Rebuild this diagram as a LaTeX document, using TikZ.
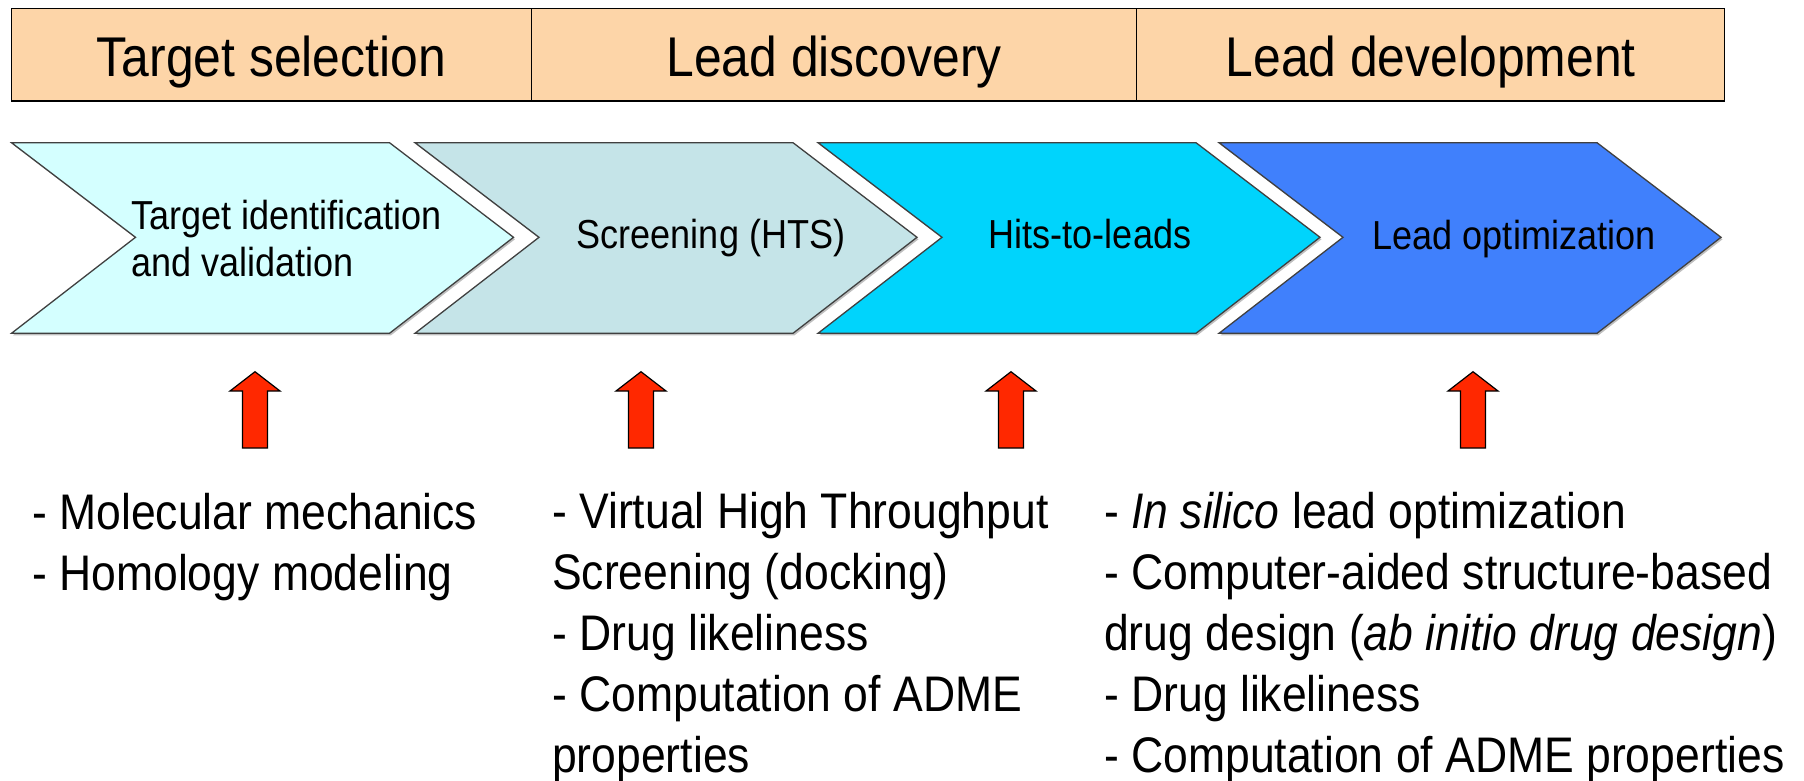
\documentclass[tikz,border=0pt]{standalone}
\usepackage{fontspec}
\setmainfont{Liberation Sans}[FakeStretch=0.89]
\definecolor{hdrfill}{RGB}{253,213,168}
\definecolor{chevA}{RGB}{212,255,255}
\definecolor{chevB}{RGB}{197,228,232}
\definecolor{chevC}{RGB}{0,212,252}
\definecolor{chevD}{RGB}{64,128,252}
\definecolor{arrowred}{RGB}{255,40,0}
\begin{document}
\begin{tikzpicture}[x=1pt,y=-1pt,
  hdrbox/.style={draw=black, fill=hdrfill, line width=1.5pt, inner sep=0pt,
    minimum height=92.7pt, text height=44pt, text depth=0pt,
    font=\fontsize{56}{60}\selectfont},
  chev/.style={draw=black!75, line width=1.3pt, line join=miter},
  chevshadow/.style={fill=black!25},
  chevtext/.style={font=\fontsize{40.5}{50}\selectfont, inner sep=0pt, anchor=base},
  chevtextl/.style={chevtext, anchor=base west},
  bodytext/.style={font=\fontsize{50}{61}\selectfont, inner sep=0pt, anchor=base west},
  uparrow/.style={draw=black, fill=arrowred, line width=1.2pt, line join=miter}]
\useasboundingbox (0,0) rectangle (1804,781);

% header bar
\node[hdrbox, minimum width=520pt] (h1) at (271.5,54.65) {Target selection};
\node[hdrbox, minimum width=605.2pt] (h2) at (834.1,54.65) {Lead discovery};
\node[hdrbox, minimum width=587.9pt] (h3) at (1430.65,54.65) {Lead development};

% chevrons
\foreach \L/\col in {11.5/chevA, 415/chevB, 818/chevC, 1219/chevD}{
  \fill[chevshadow] (\L+1.5,144.7) -- (\L+379.5,144.7) -- (\L+503.5,239.3) -- (\L+379.5,335.3) -- (\L+1.5,335.3) -- (\L+125.5,239.3) -- cycle;
  \draw[chev, fill=\col] (\L,142.7) -- (\L+378,142.7) -- (\L+502,237.3) -- (\L+378,333.3) -- (\L,333.3) -- (\L+124,237.3) -- cycle;
}

% chevron labels
\node[chevtextl] (c1a) at (131,229) {Target identification};
\node[chevtextl] (c1b) at (131,276) {and validation};
\node[chevtext] (c2) at (711,248) {Screening (HTS)};
\node[chevtext] (c3) at (1090,248) {Hits-to-leads};
\node[chevtext] (c4) at (1514,249) {Lead optimization};

% red up arrows
\foreach \cx in {255,641,1011,1473}{
  \draw[uparrow] (\cx-12.5,448) -- (\cx-12.5,391) -- (\cx-25,391) -- (\cx,371.7)
    -- (\cx+25,391) -- (\cx+12.5,391) -- (\cx+12.5,448) -- cycle;
}

% text blocks
\node[bodytext] (a1) at (32,529) {- Molecular mechanics};
\node[bodytext] (a2) at (32,590) {- Homology modeling};

\node[bodytext] (b1) at (552,528) {- Virtual High Throughput};
\node[bodytext] (b2) at (552,589) {Screening (docking)};
\node[bodytext] (b3) at (552,650) {- Drug likeliness};
\node[bodytext] (b4) at (552,711) {- Computation of ADME};
\node[bodytext] (b5) at (552,772) {properties};

\node[bodytext] (d1) at (1104,528) {- \textit{In silico} lead optimization};
\node[bodytext] (d2) at (1104,589) {- Computer-aided structure-based};
\node[bodytext] (d3) at (1104,650) {drug design (\textit{ab initio drug design})};
\node[bodytext] (d4) at (1104,711) {- Drug likeliness};
\node[bodytext] (d5) at (1104,772) {- Computation of ADME properties};
\end{tikzpicture}
\end{document}
